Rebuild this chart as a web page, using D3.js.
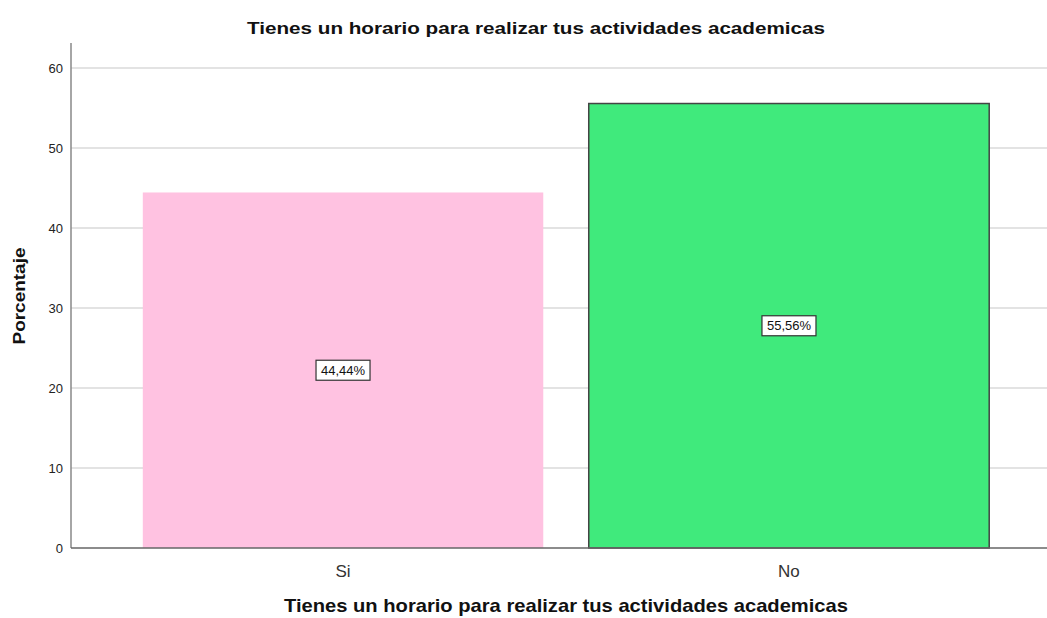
<!DOCTYPE html>
<html><head><meta charset="utf-8">
<script src="https://cdn.jsdelivr.net/npm/d3@7"></script>
<style>body{margin:0;background:#fff;} text{font-family:"Liberation Sans",Arial,sans-serif;}</style>
</head><body>
<svg id="c" width="1047" height="618"></svg>
<script>
const categories = ["Si", "No"];
const values = [44.44, 55.56];
const labels = ["44,44%", "55,56%"];
const colors = ["#FFC2E1", "#40EA7C"];
const yTicks = [0, 10, 20, 30, 40, 50, 60];
const title = "Tienes un horario para realizar tus actividades academicas";

const svg = d3.select("#c");
const x0 = 71, yBottom = 548, yTop = 43;
const y = d3.scaleLinear().domain([0, 63.125]).range([yBottom, yTop]);
const x = d3.scaleBand().domain(categories).range([x0, 1061]).paddingInner(0.102).paddingOuter(0.161);

// gridlines
svg.append("g").selectAll("line").data(yTicks.filter(d => d > 0)).join("line")
  .attr("x1", x0).attr("x2", 1047).attr("y1", d => y(d)).attr("y2", d => y(d))
  .attr("stroke", "#c8c8c8").attr("stroke-width", 1.2);

// bars
svg.append("g").selectAll("rect").data(categories).join("rect")
  .attr("x", d => x(d)).attr("width", x.bandwidth())
  .attr("y", (d, i) => y(values[i])).attr("height", (d, i) => yBottom - y(values[i]))
  .attr("fill", (d, i) => colors[i])
  .attr("stroke", (d, i) => i === 1 ? "#444" : "none").attr("stroke-width", 1.5);

// axes
svg.append("line").attr("x1", x0).attr("x2", x0).attr("y1", yTop).attr("y2", yBottom).attr("stroke", "#888").attr("stroke-width", 1.5);
svg.append("line").attr("x1", x0).attr("x2", 1047).attr("y1", yBottom).attr("y2", yBottom).attr("stroke", "#666").attr("stroke-width", 1.5);

svg.append("g").selectAll("text").data(yTicks).join("text")
  .attr("x", 63).attr("y", d => y(d)).attr("dy", "0.36em").attr("text-anchor", "end")
  .attr("font-size", 13).attr("fill", "#222").text(d => d);

svg.append("g").selectAll("text").data(categories).join("text")
  .attr("x", d => x(d) + x.bandwidth() / 2).attr("y", 577).attr("text-anchor", "middle")
  .attr("font-size", 17).attr("fill", "#333").text(d => d);

// data labels
const lg = svg.append("g").selectAll("g").data(categories).join("g")
  .attr("transform", (d, i) => `translate(${x(d) + x.bandwidth() / 2},${y(values[i] / 2)})`);
lg.append("rect").attr("x", -27).attr("y", -10).attr("width", 54).attr("height", 20)
  .attr("fill", "#fff").attr("stroke", "#333").attr("stroke-width", 1.2);
lg.append("text").attr("text-anchor", "middle").attr("dy", "0.36em").attr("font-size", 13)
  .attr("fill", "#111").text((d, i) => labels[i]);

// titles
svg.append("text").attr("x", 536).attr("y", 34).attr("text-anchor", "middle")
  .attr("font-size", 17).attr("font-weight", "bold").attr("fill", "#111")
  .attr("textLength", 578).attr("lengthAdjust", "spacingAndGlyphs").text(title);
svg.append("text").attr("x", 566).attr("y", 612).attr("text-anchor", "middle")
  .attr("font-size", 18.5).attr("font-weight", "bold").attr("fill", "#111")
  .attr("textLength", 564).attr("lengthAdjust", "spacingAndGlyphs").text(title);
svg.append("text").attr("transform", "translate(25,296) rotate(-90)").attr("text-anchor", "middle")
  .attr("font-size", 17).attr("font-weight", "bold").attr("fill", "#111")
  .attr("textLength", 97).attr("lengthAdjust", "spacingAndGlyphs").text("Porcentaje");
</script>
</body></html>
